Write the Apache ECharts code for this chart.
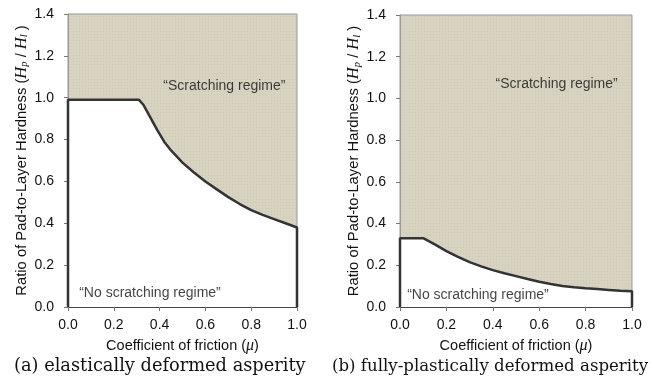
<!DOCTYPE html>
<html>
<head>
<meta charset="utf-8">
<script src="https://cdn.jsdelivr.net/npm/echarts@6/dist/echarts.min.js"></script>
<style>
  html, body { margin: 0; padding: 0; background: #fff; }
  #chart { width: 653px; height: 381px; }
</style>
</head>
<body>
<div id="chart"></div>
<script>
// 数据
// (a) elastic: boundary between regimes
var elasticMu = [0, 0, 0.31, 0.33, 0.36, 0.39, 0.42, 0.45, 0.50, 0.55, 0.60, 0.65, 0.70, 0.75, 0.80, 0.85, 0.90, 0.95, 1.0, 1.0];
var elasticH  = [0, 0.99, 0.99, 0.965, 0.905, 0.845, 0.79, 0.748, 0.69, 0.643, 0.60, 0.562, 0.525, 0.492, 0.463, 0.44, 0.42, 0.40, 0.38, 0];

// (b) fully-plastic
var plasticMu = [0, 0, 0.1, 0.15, 0.2, 0.25, 0.3, 0.35, 0.4, 0.45, 0.5, 0.55, 0.6, 0.65, 0.7, 0.75, 0.8, 0.85, 0.9, 0.95, 1.0, 1.0];
var plasticH  = [0, 0.33, 0.33, 0.30, 0.268, 0.24, 0.215, 0.195, 0.177, 0.162, 0.148, 0.134, 0.121, 0.11, 0.101, 0.095, 0.09, 0.086, 0.082, 0.078, 0.075, 0];

var regimeLabels = ['\u201cScratching regime\u201d', '\u201cNo scratching regime\u201d'];
var captions = ['(a) elastically deformed asperity', '(b) fully-plastically deformed asperity'];

function zip(a, b) {
    return a.map(function (v, i) { return [v, b[i]]; });
}

// 点状纹理背景
function makePattern() {
    var c = document.createElement('canvas');
    c.width = 3; c.height = 3;
    var ctx = c.getContext('2d');
    ctx.fillStyle = '#d8d3c1';
    ctx.fillRect(0, 0, 3, 3);
    ctx.fillStyle = '#cdc8b5';
    ctx.fillRect(1, 1, 1, 1);
    return c;
}
var bg = { image: makePattern(), repeat: 'repeat' };

var FONT = 'Liberation Sans';
var richName = {
    i: { fontStyle: 'italic', fontFamily: 'Liberation Serif', fontSize: 16.5, color: '#111' },
    sub: { fontStyle: 'italic', fontFamily: 'Liberation Serif', fontSize: 10.5, color: '#111', verticalAlign: 'bottom', padding: [4, 0, 0, 0] },
    n: { fontFamily: FONT, fontSize: 14.8, color: '#111' }
};
var richX = {
    i: { fontStyle: 'italic', fontFamily: 'Liberation Serif', fontSize: 16, color: '#111' },
    n: { fontFamily: FONT, fontSize: 14.5, color: '#111' }
};

function xAxisOf(idx) {
    return {
        gridIndex: idx, type: 'value', min: 0, max: 1, interval: 0.2,
        axisLine: { lineStyle: { color: '#444', width: 2 } },
        axisTick: { show: true, length: 4, lineStyle: { color: '#777' } },
        splitLine: { show: false },
        axisLabel: { margin: 11, fontFamily: FONT, fontSize: 14, color: '#111', formatter: function (v) { return v.toFixed(1); } },
        name: '{n|Coefficient of friction (}{i|\u03bc}{n|)}',
        nameLocation: 'middle', nameGap: 31,
        nameTextStyle: { rich: richX }
    };
}
function yAxisOf(idx, gap) {
    return {
        gridIndex: idx, type: 'value', min: 0, max: 1.4, interval: 0.2,
        axisLine: { show: true, lineStyle: { color: '#999', width: 1 } },
        axisTick: { show: true, length: 4, lineStyle: { color: '#777' } },
        splitLine: { show: false },
        axisLabel: { margin: 14, fontFamily: FONT, fontSize: 14, color: '#111', formatter: function (v) { return v.toFixed(1); } },
        name: '{n|Ratio of Pad-to-Layer Hardness (}{i|H}{sub|p}{n| / }{i|H}{sub|l}{n| )}',
        nameLocation: 'middle', nameGap: gap, nameRotate: 90,
        nameTextStyle: { rich: richName }
    };
}
function boundary(idx, data) {
    return {
        type: 'line', xAxisIndex: idx, yAxisIndex: idx,
        data: data, symbol: 'none', clip: false, z: 3,
        lineStyle: { color: '#333', width: 2.5 },
        areaStyle: { color: '#fff', opacity: 1 }
    };
}
function textMarks(idx, pts) {
    return {
        type: 'scatter', xAxisIndex: idx, yAxisIndex: idx, symbolSize: 0, z: 5,
        data: pts,
        label: {
            show: true, position: 'inside', fontFamily: FONT, fontSize: 14, color: '#111',
            formatter: function (p) { return p.name; }
        }
    };
}

var chart = echarts.init(document.getElementById('chart'));
chart.setOption({
    animation: false,
    backgroundColor: '#fff',
    grid: [
        { left: 68, top: 14, width: 229, height: 293, show: true, backgroundColor: bg, borderColor: '#999', borderWidth: 1 },
        { left: 400, top: 15, width: 232, height: 292, show: true, backgroundColor: bg, borderColor: '#999', borderWidth: 1 }
    ],
    xAxis: [xAxisOf(0), xAxisOf(1)],
    yAxis: [yAxisOf(0, 38), yAxisOf(1, 35)],
    series: [
        boundary(0, zip(elasticMu, elasticH)),
        boundary(1, zip(plasticMu, plasticH)),
        textMarks(0, [
            { name: regimeLabels[0], value: [0.683, 1.057] },
            { name: regimeLabels[1], value: [0.358, 0.067] }
        ]),
        textMarks(1, [
            { name: regimeLabels[0], value: [0.675, 1.069] },
            { name: regimeLabels[1], value: [0.336, 0.056] }
        ])
    ],
    graphic: [
        { type: 'text', left: 14, top: 357, style: { text: captions[0], fontFamily: 'DejaVu Serif', fontSize: 17.8, fill: '#111' } },
        { type: 'text', left: 332, top: 358, style: { text: captions[1], fontFamily: 'DejaVu Serif', fontSize: 16.6, fill: '#111' } }
    ]
});
</script>
</body>
</html>
